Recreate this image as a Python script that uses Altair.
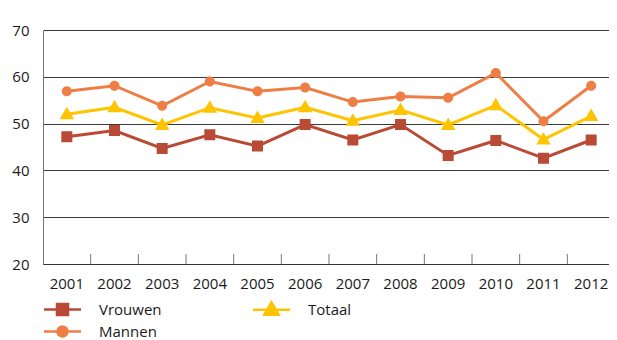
import altair as alt
import pandas as pd

years = ["2001", "2002", "2003", "2004", "2005", "2006",
         "2007", "2008", "2009", "2010", "2011", "2012"]
vrouwen = [47.2, 48.5, 44.7, 47.6, 45.2, 49.8, 46.5, 49.8, 43.2, 46.4, 42.6, 46.5]
mannen = [56.9, 58.1, 53.8, 59.0, 56.9, 57.7, 54.6, 55.8, 55.5, 60.8, 50.5, 58.1]
totaal = [52.0, 53.5, 49.7, 53.4, 51.2, 53.5, 50.6, 52.9, 49.7, 53.9, 46.6, 51.6]

series = ["Vrouwen", "Mannen", "Totaal"]
colors = ["#B94A35", "#EE7E45", "#FFC400"]
shapes = [
    "M-1.85,0H1.85M-0.55,-0.55H0.55V0.55H-0.55Z",
    "M-1.85,0H1.85M-0.5,0A0.5,0.5 0 1,0 0.5,0A0.5,0.5 0 1,0 -0.5,0Z",
    "M-1.85,0H1.85M0,-0.75L0.72,0.5L-0.72,0.5Z",
]

rows = []
for name, vals in (("Vrouwen", vrouwen), ("Mannen", mannen), ("Totaal", totaal)):
    for y, v in zip(years, vals):
        rows.append({"jaar": y, "serie": name, "waarde": v})
df = pd.DataFrame(rows)
ticks_df = pd.DataFrame({"jaar": years[:-1]})

FONT = "Open Sans"
W, H = 572, 234

x_scale = alt.Scale(type="band", domain=years, paddingInner=0, paddingOuter=0)
x_enc = alt.X("jaar:N", sort=years, title=None, scale=x_scale,
              axis=alt.Axis(labelAngle=0, ticks=False, grid=False, domainColor="#333333",
                            domainWidth=1, labelPadding=12, labelFontSize=15,
                            labelColor="#1a1a1a", labelFont=FONT))
y_enc = alt.Y("waarde:Q", title=None,
              scale=alt.Scale(domain=[20, 70], nice=False, zero=False),
              axis=alt.Axis(values=[20, 30, 40, 50, 60, 70], ticks=False, grid=True,
                            gridColor="#3a3a3a", gridWidth=1, domainColor="#777777",
                            labelPadding=14, labelFontSize=15, labelColor="#1a1a1a",
                            labelFont=FONT, minExtent=35, maxExtent=35))

color_scale = alt.Scale(domain=series, range=colors)
shape_scale = alt.Scale(domain=series, range=shapes)

leg = dict(title=None, orient="none", legendX=8, legendY=268,
           columns=2, columnPadding=86, rowPadding=0,
           symbolSize=400, symbolStrokeWidth=2.5,
           labelFontSize=15, labelColor="#1a1a1a", labelFont=FONT, labelOffset=25)

base = alt.Chart(df)

ghost = base.transform_filter("false").mark_point(
    filled=True, size=400, strokeWidth=2.5, opacity=1).encode(
    x=x_enc, y=y_enc,
    color=alt.Color("serie:N", scale=color_scale, legend=alt.Legend(**leg)),
    stroke=alt.Stroke("serie:N", scale=color_scale, legend=alt.Legend(**leg)),
    shape=alt.Shape("serie:N", scale=shape_scale, legend=alt.Legend(**leg)),
)

tick_layer = alt.Chart(ticks_df).mark_rule(color="#777777", strokeWidth=1).encode(
    x=alt.X("jaar:N", sort=years, bandPosition=1, scale=x_scale),
    y=alt.value(H), y2=alt.value(H - 10),
)

lines = base.mark_line(strokeWidth=3).encode(
    x=x_enc, y=y_enc,
    color=alt.Color("serie:N", scale=color_scale, legend=None),
    detail="serie:N",
)
points = base.mark_point(filled=True, size=400, strokeWidth=0, opacity=1).encode(
    x=x_enc, y=y_enc,
    color=alt.Color("serie:N", scale=color_scale, legend=None),
    shape=alt.Shape("serie:N", scale=shape_scale, legend=None),
)

chart = alt.layer(ghost, tick_layer, lines, points).properties(
    width=W, height=H,
    padding={"left": 0, "top": 15, "right": -6, "bottom": 0},
    background="white",
).configure_view(stroke=None)

chart.save("out.html", embed_options={"renderer": "svg", "actions": False})
